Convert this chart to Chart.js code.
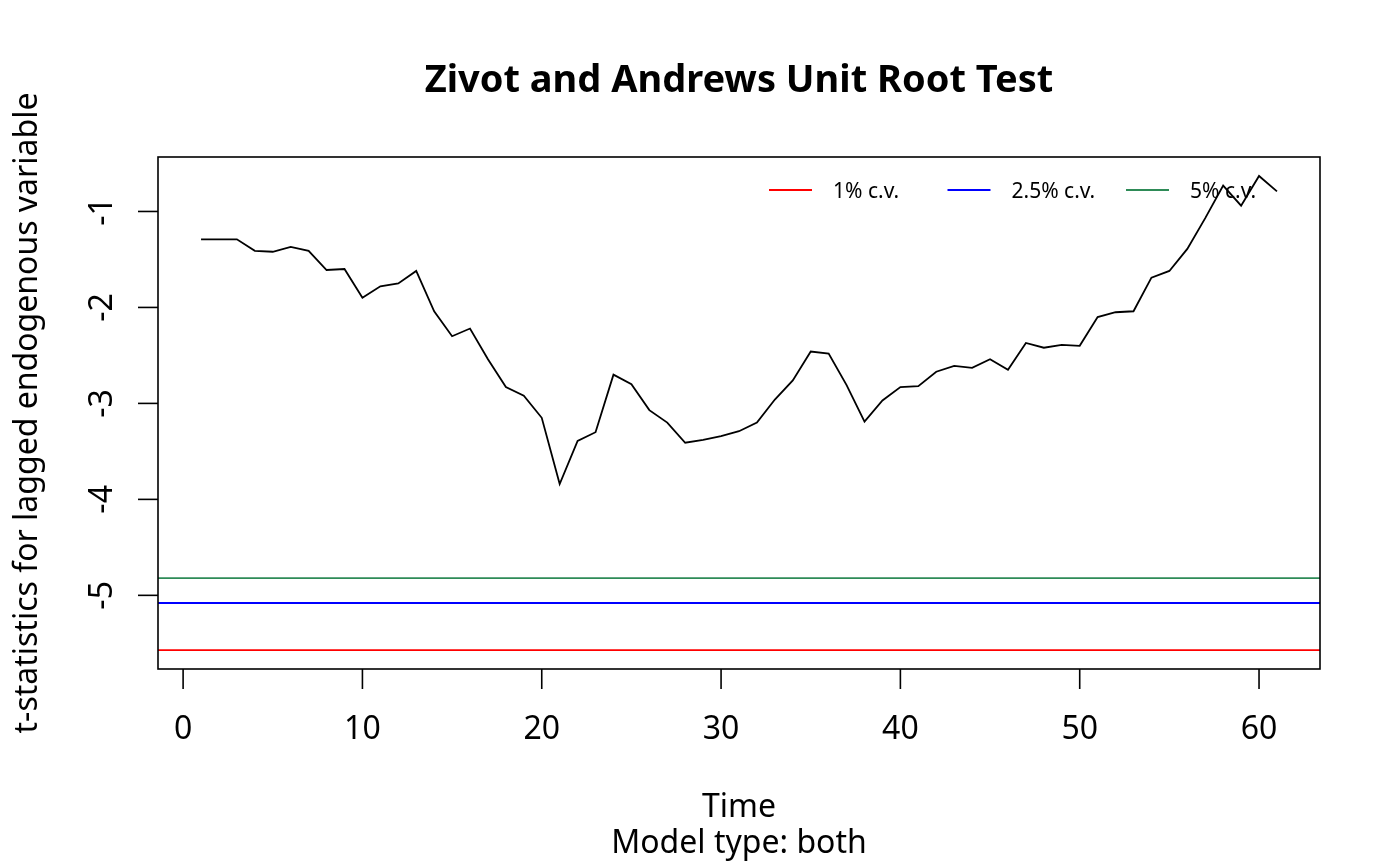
<!DOCTYPE html>
<html>
<head>
<meta charset="utf-8">
<script src="https://cdn.jsdelivr.net/npm/chart.js@4.4.1/dist/chart.umd.min.js"></script>
<style>
html,body{margin:0;padding:0;background:#fff;}
#c{display:block;}
</style>
</head>
<body>
<canvas id="c" width="1400" height="866"></canvas>
<script>
// ---- data ----
const timeIndex = [1,2,3,4,5,6,7,8,9,10,11,12,13,14,15,16,17,18,19,20,
  21,22,23,24,25,26,27,28,29,30,31,32,33,34,35,36,37,38,39,40,
  41,42,43,44,45,46,47,48,49,50,51,52,53,54,55,56,57,58,59,60,61];
const tStats = [
  -1.29,-1.29,-1.29,-1.41,-1.42,-1.37,-1.41,-1.61,-1.60,-1.90,
  -1.78,-1.75,-1.62,-2.04,-2.30,-2.22,-2.54,-2.83,-2.92,-3.15,
  -3.84,-3.39,-3.30,-2.70,-2.80,-3.07,-3.20,-3.41,-3.38,-3.34,
  -3.29,-3.20,-2.96,-2.76,-2.46,-2.48,-2.81,-3.19,-2.97,-2.83,
  -2.82,-2.67,-2.61,-2.63,-2.54,-2.65,-2.37,-2.42,-2.39,-2.40,
  -2.10,-2.05,-2.04,-1.69,-1.62,-1.39,-1.07,-0.73,-0.94,-0.63,
  -0.79];
const cvLabels = ['1% c.v.', '2.5% c.v.', '5% c.v.'];
const cvValues = [-5.57, -5.08, -4.82];
const cvColors = ['#FF0000', '#0000FF', '#2E8B57'];
const xTicks = [0, 10, 20, 30, 40, 50, 60];
const yTicks = [-5, -4, -3, -2, -1];
const xLimits = [-1.4, 63.4];
const yLimits = [-5.7675, -0.4325];

const titleText = 'Zivot and Andrews Unit Root Test';
const xTitle = 'Time';
const subTitle = 'Model type: both';
const yTitle = 't-statistics for lagged endogenous variable';

const FONT = '"Noto Sans", "Open Sans", sans-serif';

const datasets = [{
  label: 'tstat',
  data: timeIndex.map((t, i) => ({x: t, y: tStats[i]})),
  borderColor: '#000000',
  borderWidth: 1.8,
  pointRadius: 0,
  tension: 0,
  fill: false
}];
cvValues.forEach((v, i) => {
  datasets.push({
    label: cvLabels[i],
    data: [{x: xLimits[0], y: v}, {x: xLimits[1], y: v}],
    borderColor: cvColors[i],
    borderWidth: 1.8,
    pointRadius: 0,
    fill: false
  });
});

const rPlot = {
  id: 'rPlot',
  afterDraw(chart) {
    const ctx = chart.ctx;
    const a = chart.chartArea;
    const xs = chart.scales.x, ys = chart.scales.y;
    ctx.save();
    ctx.strokeStyle = '#000';
    ctx.fillStyle = '#000';
    ctx.lineWidth = 1.6;
    // box
    ctx.strokeRect(a.left, a.top, a.right - a.left, a.bottom - a.top);
    // x axis ticks & labels
    ctx.font = '32px ' + FONT;
    ctx.textAlign = 'center';
    ctx.textBaseline = 'alphabetic';
    xTicks.forEach(v => {
      const px = xs.getPixelForValue(v);
      ctx.beginPath();
      ctx.moveTo(px, a.bottom);
      ctx.lineTo(px, a.bottom + 20);
      ctx.stroke();
      ctx.fillText(String(v), px, a.bottom + 70);
    });
    // y axis ticks & rotated labels
    yTicks.forEach(v => {
      const py = ys.getPixelForValue(v);
      ctx.beginPath();
      ctx.moveTo(a.left, py);
      ctx.lineTo(a.left - 20, py);
      ctx.stroke();
      ctx.save();
      ctx.translate(a.left - 46, py);
      ctx.rotate(-Math.PI / 2);
      ctx.fillText(String(v), 0, 0);
      ctx.restore();
    });
    // titles
    const cx = (a.left + a.right) / 2;
    ctx.font = 'bold 38px ' + FONT;
    ctx.fillText(titleText, cx, 92);
    ctx.font = '32px ' + FONT;
    ctx.fillText(xTitle, cx, 817);
    ctx.fillText(subTitle, cx, 853);
    ctx.save();
    ctx.translate(37, (a.top + a.bottom) / 2);
    ctx.rotate(-Math.PI / 2);
    ctx.fillText(yTitle, 0, 0);
    ctx.restore();
    // legend (inside plot, top right, no box)
    ctx.font = '21px ' + FONT;
    ctx.textAlign = 'left';
    const ly = a.top + 33;
    const colW = 178.5;
    const lx0 = a.right - 551;
    cvLabels.forEach((lab, i) => {
      const x0 = lx0 + i * colW;
      ctx.strokeStyle = cvColors[i];
      ctx.lineWidth = 1.8;
      ctx.beginPath();
      ctx.moveTo(x0, ly);
      ctx.lineTo(x0 + 43, ly);
      ctx.stroke();
      ctx.fillStyle = '#000';
      ctx.fillText(lab, x0 + 64, ly + 8);
    });
    ctx.restore();
  }
};

new Chart(document.getElementById('c'), {
  type: 'line',
  data: {datasets},
  options: {
    responsive: false,
    animation: false,
    devicePixelRatio: 1,
    parsing: true,
    layout: {padding: {left: 158, right: 80, top: 157, bottom: 197}},
    plugins: {legend: {display: false}, title: {display: false}, tooltip: {enabled: false}},
    scales: {
      x: {type: 'linear', min: xLimits[0], max: xLimits[1], display: false},
      y: {type: 'linear', min: yLimits[0], max: yLimits[1], display: false}
    }
  },
  plugins: [rPlot]
});
</script>
</body>
</html>
